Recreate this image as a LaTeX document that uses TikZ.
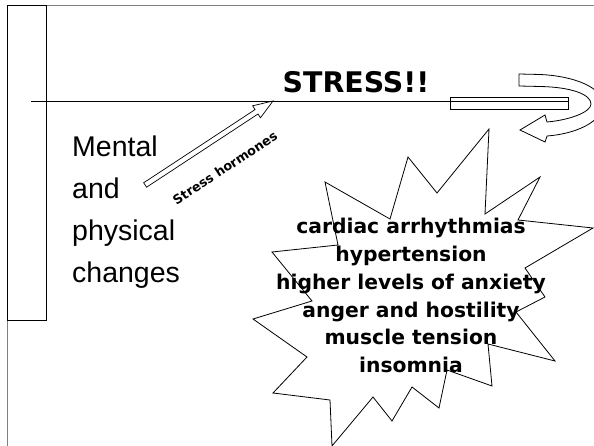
\documentclass[tikz,border=0pt]{standalone}
\usepackage{fontspec}
\setmainfont{Liberation Sans}
\newfontfamily\verd{DejaVu Sans}
\usetikzlibrary{shapes.arrows, positioning}
\definecolor{framegrey}{HTML}{808080}
\tikzset{
  thinline/.style={draw=black, line width=0.8pt},
  framel/.style={draw=framegrey, line width=1pt},
  sidetxt/.style={font=\fontsize{28.5}{42}\selectfont, align=left, inner sep=0pt, anchor=north west},
  titletxt/.style={font=\verd\bfseries\fontsize{28.4}{34}\selectfont, inner sep=0pt},
  bursttxt/.style={font=\verd\bfseries\fontsize{20.3}{27.8}\selectfont, align=center, inner sep=0pt, anchor=north},
  hormarrow/.style={single arrow, draw=black, line width=0.7pt, inner xsep=0pt, inner ysep=2.3pt,
              minimum height=153pt, single arrow head extend=4.5pt, single arrow tip angle=40},
  hormtxt/.style={font=\verd\bfseries\fontsize{12.8}{15}\selectfont, inner sep=0pt},
}
\begin{document}
\begin{tikzpicture}[x=1pt, y=-1pt]
  \useasboundingbox (0,0) rectangle (594,446);
  \clip (0,0) rectangle (594,446);
  % slide frame
  \draw[framel] (7,446) -- (7,6) -- (594,6);
  \draw[thinline] (7,5) rectangle (46,320);
  % headline
  \node[titletxt] (stress) at (356,82) {STRESS!!};
  \node[thinline, draw, minimum width=118pt, minimum height=12pt, inner sep=0pt] (bar) at (509,103.3) {};
  \coordinate (hl) at (31,101.5);
  \draw[thinline] (hl) -- (bar.east |- hl);
  % turning arrow
  \draw[thinline] (519,74) -- (540,74.5) .. controls (575,76) and (603,88) .. (603,104)
    .. controls (603,122) and (575,134) .. (547,136) -- (545,142) -- (520,130) -- (545,115)
    -- (547,122) .. controls (570,120) and (591,112) .. (591,104)
    .. controls (591,94) and (570,87) .. (540,86.5) -- (519,86) -- cycle;
  % left side
  \node[sidetxt] (changes) at (72,136) {Mental\\and\\physical\\changes};
  \node[hormarrow, rotate=33.3] (horm) at (206,145) {};
  \node[hormtxt, rotate=33.3] (hormlbl) at (225,168) {Stress hormones};
  % burst
  \draw[thinline] (325,182) -- (390,219) -- (408,157) -- (437,193) -- (489,129) -- (485,214)
    -- (540,177) -- (518,220) -- (593,228) -- (525,268) -- (545,297) -- (516,312)
    -- (555,361) -- (488,344) -- (492,386) -- (447,370) -- (439,408) -- (412,387)
    -- (392,421) -- (373,397) -- (332,446) -- (330,400) -- (273,393) -- (307,357)
    -- (253,319) -- (312,301) -- (272,252) -- (338,245) -- cycle;
  \node[bursttxt] (effects) at (411,218) {cardiac arrhythmias\\hypertension\\higher levels of anxiety\\anger and hostility\\muscle tension\\insomnia};
\end{tikzpicture}
\end{document}
